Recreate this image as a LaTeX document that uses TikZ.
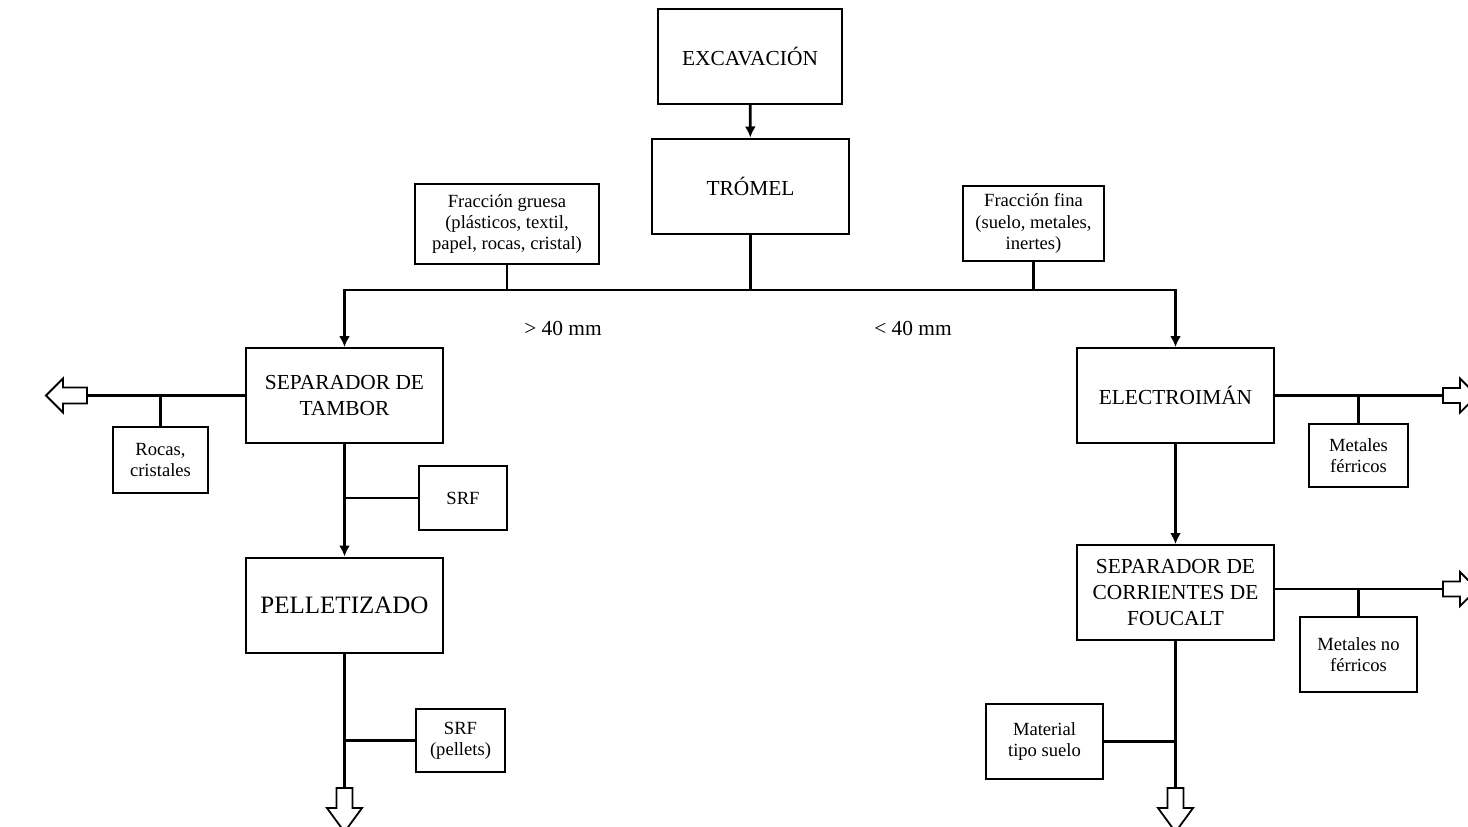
\documentclass[tikz,border=0pt]{standalone}
\usepackage{fontspec}
\setmainfont{Liberation Serif}
\usetikzlibrary{arrows.meta}
\begin{document}
\begin{tikzpicture}[x=0.5pt,y=-0.5pt,
  proc/.style={draw,line width=1pt,minimum width=98.5pt,minimum height=47.5pt,
    align=center,inner sep=0pt,font=\fontsize{10.7}{12.8}\selectfont},
  note/.style={draw,line width=1pt,align=center,inner sep=0pt,
    font=\fontsize{9.3}{10.6}\selectfont},
  lbl/.style={inner sep=0pt,font=\fontsize{10.7}{12.8}\selectfont},
  link/.style={line width=1.4pt},
  flow/.style={link,-{Latex[length=5.5pt,width=5.5pt]}},
  hollow/.style={line width=0.9pt,fill=white,line join=miter}]

\useasboundingbox (0,0) rectangle (1468,826);
\fill[white] (0,0) rectangle (1468,826);
\clip (0,0) rectangle (1468,826);

% process boxes
\node[proc,minimum width=92pt] (exc) at (750,56) {EXCAVACIÓN};
\node[proc] (trom) at (750.5,186) {TRÓMEL};
\node[proc] (sep) at (344.5,395.5) {SEPARADOR DE\\TAMBOR};
\node[proc,font=\fontsize{12.5}{14}\selectfont] (pel) at (344.5,605) {PELLETIZADO};
\node[proc] (elec) at (1175.5,395.5) {ELECTROIMÁN};
\node[proc] (fouc) at (1175.5,592.5) {SEPARADOR DE\\CORRIENTES DE\\FOUCALT};

% side notes
\node[note,minimum width=92pt,minimum height=40pt] (gru) at (507,224)
  {Fracción gruesa\\(plásticos, textil,\\papel, rocas, cristal)};
\node[note,minimum width=70.5pt,minimum height=37.5pt] (fin) at (1033.5,223.5)
  {Fracción fina\\(suelo, metales,\\inertes)};
\node[note,minimum width=47.5pt,minimum height=33pt] (rocas) at (160.5,460) {Rocas,\\cristales};
\node[note,minimum width=44pt,minimum height=32pt] (srf1) at (463,498) {SRF};
\node[note,minimum width=44.5pt,minimum height=31.5pt] (srf2) at (460.5,740.5) {SRF\\(pellets)};
\node[note,minimum width=49.5pt,minimum height=31.5pt] (mfer) at (1358.5,455.5) {Metales\\férricos};
\node[note,minimum width=58.5pt,minimum height=37.5pt] (mnof) at (1358.5,654.5) {Metales no\\férricos};
\node[note,minimum width=58.5pt,minimum height=37.5pt] (suelo) at (1044.5,741.5) {Material\\tipo suelo};

% size labels
\node[lbl] (gt) at (563,328) {> 40 mm};
\node[lbl] (lt) at (913,328) {< 40 mm};

% main trunk and split
\coordinate (busL) at (344.5,290);
\coordinate (busR) at (1175.5,290);
\draw[flow] (exc) -- (trom);
\draw[link] (trom) -- (trom |- busL);
\draw[link,line cap=rect] (busL) -- (busR);
\draw[link] (gru) -- (gru |- busL);
\draw[link] (fin) -- (fin |- busL);
\draw[flow] (busL) -- (sep);
\draw[flow] (busR) -- (elec);

% coarse line
\coordinate (outL) at (87,395.5);
\draw[link] (sep.west) -- (outL);
\draw[link] (rocas) -- (rocas |- outL);
\draw[flow] (sep) -- (pel);
\draw[link] (srf1.west) -- (sep |- srf1.west);
\coordinate (outB1) at (344.5,788);
\draw[link] (pel) -- (outB1);
\draw[link] (srf2.west) -- (outB1 |- srf2.west);

% fine line
\coordinate (outR1) at (1443,395.5);
\draw[link] (elec.east) -- (outR1);
\draw[link] (mfer) -- (mfer |- outR1);
\draw[flow] (elec) -- (fouc);
\coordinate (outR2) at (1443,589);
\draw[link] (outR2 -| fouc.east) -- (outR2);
\draw[link] (mnof) -- (mnof |- outR2);
\coordinate (outB2) at (1175.5,788);
\draw[link] (fouc) -- (outB2);
\draw[link] (suelo.east) -- (outB2 |- suelo.east);

% open block arrows for outgoing streams
\draw[hollow] (outL) ++(0,-8) -- ++(-24,0) -- ++(0,-9) -- ++(-17,17)
  -- ++(17,17) -- ++(0,-9) -- ++(24,0) -- cycle;
\draw[hollow] (outR1) ++(0,-7.5) -- ++(17,0) -- ++(0,-9.5) -- ++(17,17)
  -- ++(-17,17) -- ++(0,-9.5) -- ++(-17,0) -- cycle;
\draw[hollow] (outR2) ++(0,-7.5) -- ++(17,0) -- ++(0,-9.5) -- ++(17,17)
  -- ++(-17,17) -- ++(0,-9.5) -- ++(-17,0) -- cycle;
\draw[hollow] (outB1) ++(-8,0) -- ++(0,20) -- ++(-9.5,0) -- ++(17.5,24)
  -- ++(17.5,-24) -- ++(-9.5,0) -- ++(0,-20) -- cycle;
\draw[hollow] (outB2) ++(-8,0) -- ++(0,20) -- ++(-9.5,0) -- ++(17.5,24)
  -- ++(17.5,-24) -- ++(-9.5,0) -- ++(0,-20) -- cycle;
\end{tikzpicture}
\end{document}
